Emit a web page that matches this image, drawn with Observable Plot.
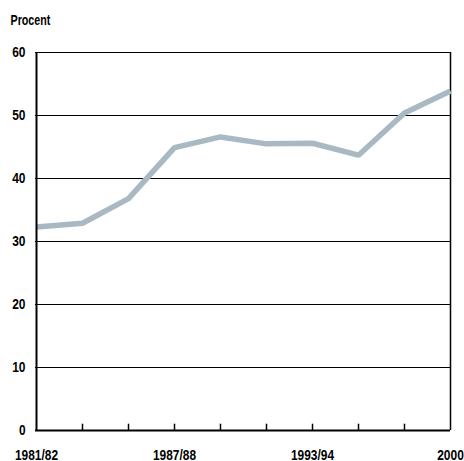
<!DOCTYPE html>
<html>
<head>
<meta charset="utf-8">
<script src="https://cdn.jsdelivr.net/npm/d3@7"></script>
<script src="https://cdn.jsdelivr.net/npm/@observablehq/plot@0.6"></script>
<style>
  html, body { margin: 0; padding: 0; background: #fff; }
</style>
</head>
<body>
<div id="chart"></div>
<script>
const years = ["1981/82","1983/84","1985/86","1987/88","1989/90","1991/92","1993/94","1995/96","1997/98","2000"];
const values = [32.3, 32.9, 36.8, 44.9, 46.6, 45.5, 45.6, 43.7, 50.4, 53.9];
const shownLabels = ["1981/82","1987/88","1993/94","2000"];
const yTicks = [0, 10, 20, 30, 40, 50, 60];
const yLabel = "Procent";

const data = years.map((y, i) => ({year: y, value: values[i]}));
const innerTicks = years.slice(1, -1);

const chart = Plot.plot({
  width: 464,
  height: 461,
  marginLeft: 35,
  marginRight: 14,
  marginTop: 52,
  marginBottom: 31,
  style: {
    fontFamily: "'Liberation Sans', Arial, sans-serif",
    fontSize: "15.5px", fontWeight: "bold", color: "#000", background: "#fff", overflow: "visible"
  },
  x: {type: "point", domain: years, padding: 0},
  y: {domain: [0, 60]},
  marks: [
    Plot.ruleY(yTicks.slice(1), {stroke: "#000", strokeWidth: 1.2}),
    Plot.ruleX([years[years.length - 1]], {stroke: "#000", strokeWidth: 1.5}),
    Plot.ruleX(innerTicks, {x: d => d, y1: 0, y2: 1, stroke: "#000", strokeWidth: 1.5}),
    Plot.line(data, {x: "year", y: "value", stroke: "#a9b9c4", strokeWidth: 5.5, strokeLinejoin: "miter", strokeLinecap: "butt"}),
    Plot.ruleX([years[0]], {stroke: "#000", strokeWidth: 2}),
    Plot.ruleY([0], {stroke: "#000", strokeWidth: 2}),
    Plot.axisY({ticks: yTicks, tickSize: 0, tickPadding: 10, label: null}),
    Plot.axisX({ticks: shownLabels, tickSize: 0, tickPadding: 18, label: null}),
    Plot.text([yLabel], {frameAnchor: "top-left", text: d => d, dx: -25, dy: -38.5, textAnchor: "start", fontSize: 15.5, fontWeight: "bold"})
  ]
});
document.getElementById("chart").appendChild(chart);
// condense the text to mimic the reference's narrow typeface
d3.select(chart).selectAll("text").each(function() {
  const w = this.getComputedTextLength();
  const f = /[a-z]/i.test(this.textContent) ? 0.69 : 0.77;
  this.setAttribute("textLength", (w * f).toFixed(1));
  this.setAttribute("lengthAdjust", "spacingAndGlyphs");
});
</script>
</body>
</html>
